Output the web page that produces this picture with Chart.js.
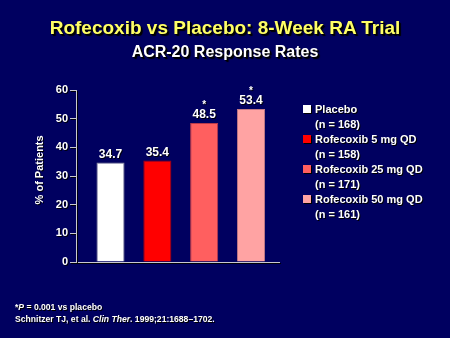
<!DOCTYPE html>
<html>
<head>
<meta charset="utf-8">
<script src="https://cdn.jsdelivr.net/npm/chart.js@4.4.1/dist/chart.umd.min.js"></script>
<style>
  html, body { margin: 0; padding: 0; background: #000060; }
  #wrap { position: relative; width: 450px; height: 338px; background: #000060; overflow: hidden;
          font-family: "Liberation Sans", Arial, sans-serif; font-weight: bold; color: #fff; }
  #c { position: absolute; left: 0; top: 0; }
  .t { position: absolute; white-space: nowrap; text-shadow: 1px 1px 0 #000, 2px 2px 1px #000; }
  #title { left: 0; width: 450px; text-align: center; top: 16px; font-size: 19px; line-height: 23px; color: #ffff66; }
  #sub { left: 0; width: 450px; text-align: center; top: 42px; font-size: 16px; line-height: 19px; color: #fff; }
  .leg { position: absolute; left: 303px; font-size: 11px; line-height: 15px; }
  .leg .sw { position: absolute; left: 0; top: 3px; width: 8px; height: 8px; box-shadow: 1px 1px 0 #000; }
  .leg .tx { position: absolute; left: 12px; top: 0; white-space: nowrap; text-shadow: 1px 1px 0 #000; }
  #foot { left: 15px; top: 301px; font-size: 8.6px; line-height: 12px; text-shadow: 1px 1px 0 #000; }
</style>
</head>
<body>
<div id="wrap">
  <canvas id="c" width="450" height="338"></canvas>
  <div id="title" class="t">Rofecoxib vs Placebo: 8-Week RA Trial</div>
  <div id="sub" class="t">ACR-20 Response Rates</div>
  <div id="legend"></div>
  <div id="foot" class="t">*<i>P</i> = 0.001 vs placebo<br>Schnitzer TJ, et al. <i>Clin Ther</i>. 1999;21:1688–1702.</div>
</div>
<script>
// ---- Data ----
const categories = ["Placebo", "Rofecoxib 5 mg QD", "Rofecoxib 25 mg QD", "Rofecoxib 50 mg QD"];
const sampleSizes = ["(n = 168)", "(n = 158)", "(n = 171)", "(n = 161)"];
const responseRates = [34.7, 35.4, 48.5, 53.4];
const significant = [false, false, true, true];
const yTicks = [0, 10, 20, 30, 40, 50, 60];
const barColors = ["#ffffff", "#ff0000", "#ff5f5f", "#ffa3a3"];
const barBorders = ["#8a8a9a", "#a00010", "#b83a4a", "#c07a86"];

// ---- Legend (HTML) ----
const legendEl = document.getElementById('legend');
categories.forEach((c, i) => {
  const d = document.createElement('div');
  d.className = 'leg';
  d.style.top = (102 + i * 30) + 'px';
  d.innerHTML = '<div class="sw" style="background:' + barColors[i] + '"></div>' +
                '<div class="tx">' + c + '<br>' + sampleSizes[i] + '</div>';
  legendEl.appendChild(d);
});

// ---- Plugins ----
const shadowPlugin = {
  id: 'shadowPlugin',
  beforeDraw(chart) {
    const ctx = chart.ctx;
    ctx.shadowColor = 'rgba(0,0,0,0.9)';
    ctx.shadowOffsetX = 1;
    ctx.shadowOffsetY = 1;
    ctx.shadowBlur = 0;
  },
  beforeDatasetsDraw(chart) {
    const ctx = chart.ctx;
    ctx.shadowColor = 'rgba(0,0,0,0)';
    ctx.shadowOffsetX = 0;
    ctx.shadowOffsetY = 0;
  }
};

const valueLabels = {
  id: 'valueLabels',
  afterDatasetsDraw(chart) {
    const ctx = chart.ctx;
    const meta = chart.getDatasetMeta(0);
    ctx.save();
    ctx.shadowColor = 'rgba(0,0,0,0.9)';
    ctx.shadowOffsetX = 1;
    ctx.shadowOffsetY = 1;
    ctx.fillStyle = '#ffffff';
    ctx.textAlign = 'center';
    ctx.textBaseline = 'alphabetic';
    meta.data.forEach((bar, i) => {
      ctx.font = 'bold 12px "Liberation Sans", Arial, sans-serif';
      const base = bar.y - 5;
      ctx.fillText(responseRates[i].toFixed(1), bar.x, base);
      if (significant[i]) {
        ctx.font = 'bold 10px "Liberation Sans", Arial, sans-serif';
        ctx.fillText('*', bar.x, base - 10);
      }
    });
    ctx.restore();
  }
};

// ---- Chart ----
new Chart(document.getElementById('c'), {
  type: 'bar',
  data: {
    datasets: [{
      data: categories.map((c, i) => ({ x: i, y: responseRates[i] })),
      backgroundColor: barColors,
      borderColor: barBorders,
      borderWidth: 1,
      barPercentage: 0.6,
      categoryPercentage: 1.0
    }]
  },
  options: {
    responsive: false,
    animation: false,
    devicePixelRatio: 1,
    layout: { padding: { left: 0, top: 90, right: 171, bottom: 76 } },
    plugins: {
      legend: { display: false },
      tooltip: { enabled: false },
      title: { display: false }
    },
    scales: {
      x: {
        type: 'linear',
        min: -0.737,
        max: 3.598,
        offset: false,
        ticks: { display: false },
        grid: { display: false },
        border: { display: true, color: '#c8c8d0', width: 1 },
        afterFit(scale) { scale.height = 0; }
      },
      y: {
        min: 0,
        max: 60,
        afterBuildTicks(scale) { scale.ticks = yTicks.map(v => ({ value: v })); },
        ticks: {
          color: '#ffffff',
          padding: 2,
          font: { family: '"Liberation Sans", Arial, sans-serif', size: 11, weight: 'bold' }
        },
        grid: { display: true, drawOnChartArea: false, drawTicks: true, tickLength: 6, color: '#c8c8d0' },
        border: { display: true, color: '#c8c8d0', width: 1 },
        title: {
          display: true,
          text: '    % of Patients',
          color: '#ffffff',
          padding: { top: 33, bottom: 0 },
          font: { family: '"Liberation Sans", Arial, sans-serif', size: 11, weight: 'bold' }
        },
        afterFit(scale) { scale.width = 76; }
      }
    }
  },
  plugins: [shadowPlugin, valueLabels]
});
</script>
</body>
</html>
